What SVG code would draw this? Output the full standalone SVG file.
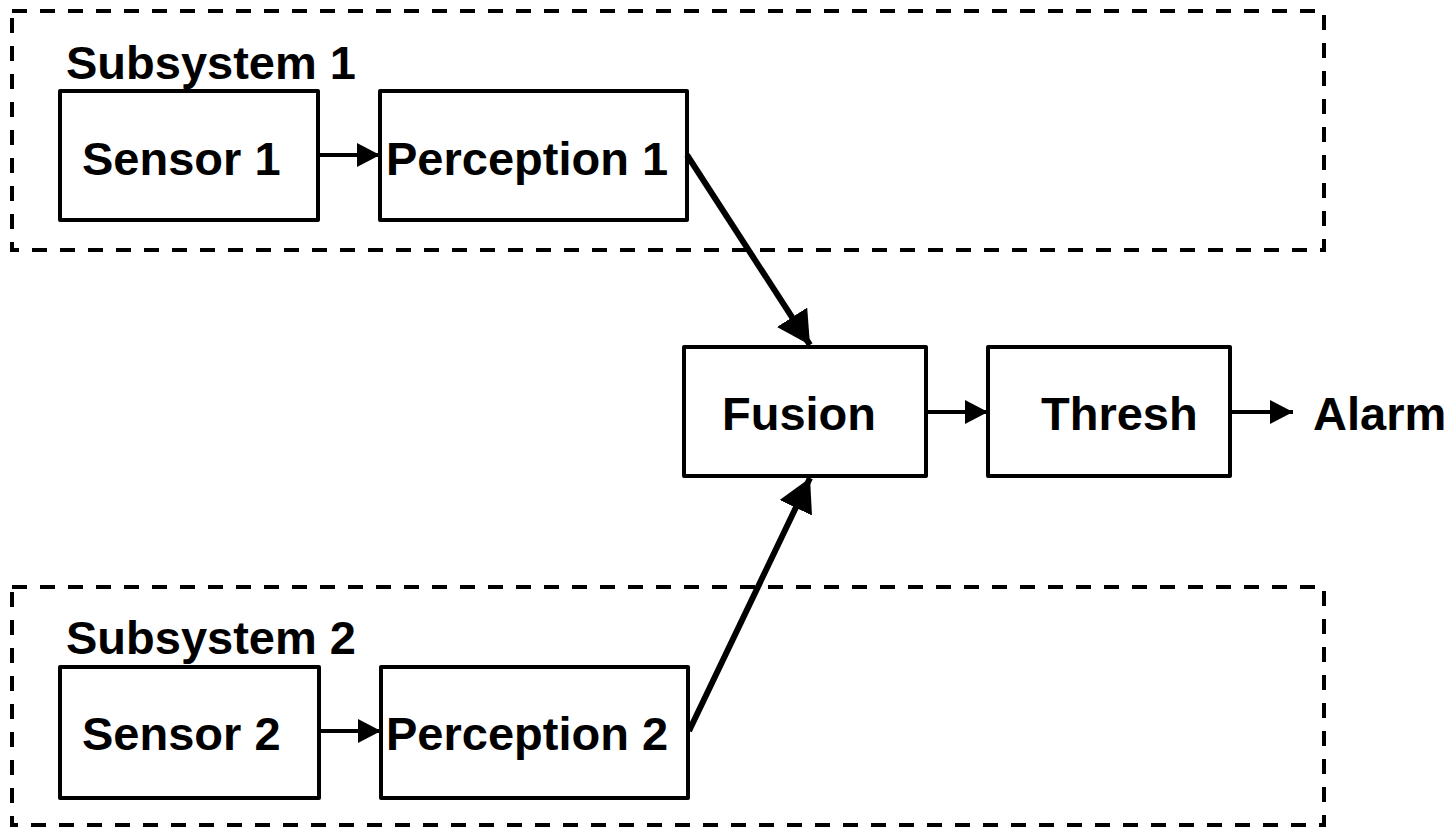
<svg xmlns="http://www.w3.org/2000/svg" width="1453" height="827" viewBox="0 0 1453 827">
  <style>
    .group { fill: none; stroke: #000; stroke-width: 4; stroke-dasharray: 15 13; }
    .box { fill: #fff; stroke: #000; stroke-width: 4; stroke-linejoin: round; }
    .lbl { font-family: "Liberation Sans", Arial, sans-serif; font-weight: bold; font-size: 47px; fill: #000; }
    .thin { stroke: #000; stroke-width: 4; fill: none; marker-end: url(#ahs); }
    .thick { stroke: #000; stroke-width: 6; fill: none; marker-end: url(#ahl); }
  </style>
  <defs>
    <marker id="ahs" markerUnits="userSpaceOnUse" markerWidth="23" markerHeight="24" refX="23" refY="12" orient="auto">
      <path d="M0,0 L23,12 L0,24 z" fill="#000"/>
    </marker>
    <marker id="ahl" markerUnits="userSpaceOnUse" markerWidth="33" markerHeight="36" refX="33" refY="18" orient="auto">
      <path d="M0,0 L33,18 L0,36 z" fill="#000"/>
    </marker>
  </defs>
  <rect width="1453" height="827" fill="#fff"/>

  <g id="subsystem1">
    <rect class="group" x="12" y="11" width="1312" height="239"/>
    <text class="lbl" x="66" y="79">Subsystem 1</text>
  </g>
  <g id="subsystem2">
    <rect class="group" x="12" y="587" width="1312" height="238"/>
    <text class="lbl" x="66" y="654">Subsystem 2</text>
  </g>

  <g id="sensor1">
    <rect class="box" x="60" y="91" width="258" height="129"/>
    <text class="lbl" x="82" y="175">Sensor 1</text>
  </g>
  <g id="perception1">
    <rect class="box" x="380" y="91" width="307" height="129"/>
    <text class="lbl" x="386" y="175">Perception 1</text>
  </g>
  <g id="sensor2">
    <rect class="box" x="60" y="667" width="259" height="131"/>
    <text class="lbl" x="82" y="750">Sensor 2</text>
  </g>
  <g id="perception2">
    <rect class="box" x="381" y="667" width="307" height="131"/>
    <text class="lbl" x="386" y="750">Perception 2</text>
  </g>
  <g id="fusion">
    <rect class="box" x="684" y="347" width="242" height="129"/>
    <text class="lbl" x="722" y="430">Fusion</text>
  </g>
  <g id="thresh">
    <rect class="box" x="988" y="347" width="242" height="129"/>
    <text class="lbl" x="1041" y="430">Thresh</text>
  </g>
  <g id="alarm">
    <text class="lbl" x="1313" y="430">Alarm</text>
  </g>

  <g id="connectors">
    <line class="thin" x1="318" y1="155" x2="380" y2="155"/>
    <line class="thin" x1="319" y1="731" x2="381" y2="731"/>
    <line class="thin" x1="926" y1="412" x2="988" y2="412"/>
    <line class="thin" x1="1230" y1="412" x2="1293" y2="412"/>
    <line class="thick" x1="687" y1="155" x2="810" y2="345"/>
    <line class="thick" x1="689" y1="731" x2="810" y2="478"/>
  </g>
</svg>
